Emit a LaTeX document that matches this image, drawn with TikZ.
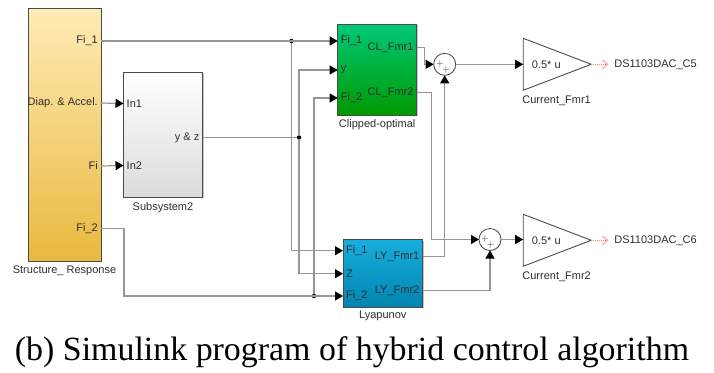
\documentclass[tikz,border=0pt]{standalone}
\usepackage{fontspec}
\setmainfont{Liberation Sans}
\newfontfamily\capfont{Liberation Serif}
\usepackage{tikz}
\usetikzlibrary{arrows.meta,positioning,calc,shapes.geometric,shadows}
\usepackage{xcolor}
\definecolor{wire}{HTML}{969696}
\definecolor{edge}{HTML}{4A4A4A}
\definecolor{ink}{HTML}{2E2E2E}
\definecolor{resptop}{HTML}{FFEBB5}
\definecolor{respbot}{HTML}{E9B93F}
\definecolor{cliptop}{HTML}{00C878}
\definecolor{clipbot}{HTML}{009A00}
\definecolor{lyaptop}{HTML}{17AEDE}
\definecolor{lyapbot}{HTML}{0085B0}
\tikzset{
  block/.style={draw=edge, line width=0.9pt, rectangle, outer sep=0pt, inner sep=0pt, drop shadow={shadow xshift=1pt, shadow yshift=-1pt, fill=black!45}},
  respblock/.style={block, minimum width=73pt, minimum height=253pt, top color=resptop, bottom color=respbot},
  subblock/.style={block, minimum width=79pt, minimum height=125pt, top color=white, bottom color=black!14},
  clipblock/.style={block, minimum width=79pt, minimum height=90.7pt, top color=cliptop, bottom color=clipbot},
  lyapblock/.style={block, minimum width=79.5pt, minimum height=67.8pt, top color=lyaptop, bottom color=lyapbot},
  sum/.style={draw=edge, line width=0.8pt, circle, fill=white, minimum size=22pt, inner sep=0pt, outer sep=0pt, drop shadow={shadow xshift=0.6pt, shadow yshift=-0.6pt, fill=black!35}},
  gain/.style={draw=edge, line width=0.9pt, isosceles triangle, isosceles triangle stretches, minimum width=52pt, minimum height=68pt, inner sep=0pt, outer sep=0pt, fill=white},
  dot/.style={circle, fill=black, minimum size=4.4pt, inner sep=0pt, outer sep=0pt},
  port/.style={text=ink, font=\fontsize{11}{13}\selectfont, inner sep=0pt},
  plus/.style={text=ink, font=\fontsize{10}{10}\selectfont, inner sep=0pt},
  wired/.style={draw=wire, line width=1.2pt},
  arr/.style={wired, -{Triangle[black, length=8pt, width=9pt]}},
  sig/.style={draw=red!45, line width=0.9pt, densely dotted, shorten >=6pt, -{Straight Barb[length=5pt, width=9pt]}},
}
\begin{document}
\begin{tikzpicture}[x=1pt, y=1pt, label distance=3pt]
\useasboundingbox (0,0) rectangle (714,-372);
\node[respblock, anchor=north west] (resp) at (28,-8) {};
\node[subblock, below right=64pt and 22.5pt of resp.north east] (subsys) {};
\node[clipblock, below right=16.3pt and 236.7pt of resp.north east] (clip) {};
\node[lyapblock, below right=124.5pt and 5.3pt of clip.south west] (lyap) {};
\node[port, below=4.5pt of resp] (respname) {Structure\_ Response};
\node[port, below=5pt of subsys] (subname) {Subsystem2};
\node[port, below=4.5pt of clip] (clipname) {Clipped-optimal};
\node[port, below=3.5pt of lyap] (lyapname) {Lyapunov};
\coordinate[below=33pt of resp.north east, label={[port]left:Fi\_1}] (respA);
\coordinate[below=95pt of resp.north east, label={[port]left:Diap. \& Accel.}] (respB);
\coordinate[below=158pt of resp.north east, label={[port]left:Fi}] (respC);
\coordinate[below=220.5pt of resp.north east, label={[port]left:Fi\_2}] (respD);
\coordinate[below=31.5pt of subsys.north west, label={[port]right:In1}] (subA);
\coordinate[below=93.5pt of subsys.north west, label={[port]right:In2}] (subB);
\coordinate[below=65.5pt of subsys.north east, label={[port]left:y \& z}] (subOut);
\coordinate[below=16.7pt of clip.north west, label={[port]right:Fi\_1}] (clipA);
\coordinate[below=45.7pt of clip.north west, label={[port]right:y}] (clipB);
\coordinate[below=73.7pt of clip.north west, label={[port]right:Fi\_2}] (clipC);
\coordinate[below=23pt of clip.north east, label={[port]left:CL\_Fmr1}] (clipP);
\coordinate[below=68.4pt of clip.north east, label={[port]left:CL\_Fmr2}] (clipQ);
\coordinate[below=11.2pt of lyap.north west, label={[port]right:Fi\_1}] (lyapA);
\coordinate[below=34.2pt of lyap.north west, label={[port]right:Z}] (lyapB);
\coordinate[below=56.5pt of lyap.north west, label={[port]right:Fi\_2}] (lyapC);
\coordinate[below=17.2pt of lyap.north east, label={[port]left:LY\_Fmr1}] (lyapP);
\coordinate[below=50.8pt of lyap.north east, label={[port]left:LY\_Fmr2}] (lyapQ);
\node[sum, right=17pt of clipP, yshift=-17pt] (sumA) {};
\node[sum, right=56.5pt of lyap.north east] (sumB) {};
\node[plus] (sumAa) at ($(sumA)+(-4.7,0)$) {$+$};
\node[plus] (sumAb) at ($(sumA)+(1.3,-5.7)$) {$+$};
\node[plus] (sumBa) at ($(sumB)+(-5,0.7)$) {$+$};
\node[plus] (sumBb) at ($(sumB)+(0.7,-5.7)$) {$+$};
\node[gain, right=67.5pt of sumA, anchor=west] (gainA) {};
\node[gain, below=176pt of gainA.west, anchor=west] (gainB) {};
\node[port, right=8.5pt of gainA.west] (gainAval) {0.5* u};
\node[port, right=8.5pt of gainB.west] (gainBval) {0.5* u};
\node[port, below right=5pt and -1pt of gainA.right corner] (gainAname) {Current\_Fmr1};
\node[port, below right=5pt and -1pt of gainB.right corner] (gainBname) {Current\_Fmr2};
\node[port, right=23pt of gainA.apex] (outA) {DS1103DAC\_C5};
\node[port, right=23pt of gainB.apex] (outB) {DS1103DAC\_C6};
\node[dot] (jA) at ($(respA)+(190.5,0)$) {};
\node[dot] (jB) at ($(subOut)+(96.5,0)$) {};
\node[dot] (jC) at ($(lyapC)+(-29,0)$) {};
\coordinate[right=23pt of respD] (bendD);
\coordinate[right=8pt of clipP] (bendP);
\coordinate[right=15pt of clipQ] (bendQ);
\draw[arr] (respB) -- (subA);
\draw[arr] (respC) -- (subB);
\draw[arr] (respA) -- (clipA);
\draw[wired] (subOut) -- (jB);
\draw[arr] (jA) |- (lyapA);
\draw[arr] (jB) |- (clipB);
\draw[arr] (jB) |- (lyapB);
\draw[arr] (jC) |- (clipC);
\draw[arr] (respD) -- (bendD) |- (lyapC);
\draw[arr] (clipP) -- (bendP) |- (sumA.west);
\draw[arr] (clipQ) -- (bendQ) |- (sumB.west);
\draw[arr] (lyapP) -| (sumA.south);
\draw[arr] (lyapQ) -| (sumB.south);
\draw[arr] (sumA) -- (sumA -| gainA.west);
\draw[arr] (sumB) -- (sumB -| gainB.west);
\draw[sig] (gainA.apex) -- (outA.west);
\draw[sig] (gainB.apex) -- (outB.west);
\node[anchor=center, text=black, font=\capfont\fontsize{33.9}{38}\selectfont] (caption) at (352,-352) {(b) Simulink program of hybrid control algorithm};
\end{tikzpicture}
\end{document}
